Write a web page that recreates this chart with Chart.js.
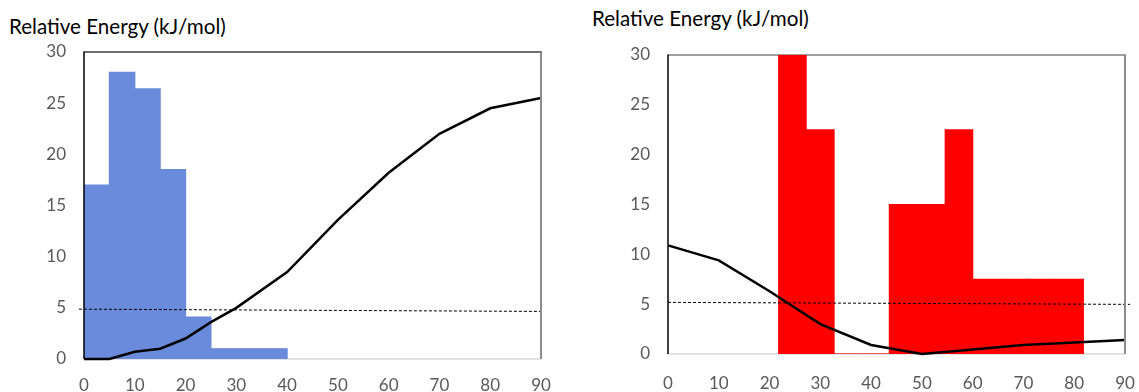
<!DOCTYPE html>
<html>
<head>
<meta charset="utf-8">
<script src="https://cdn.jsdelivr.net/npm/chart.js@4.4.1/dist/chart.umd.min.js"></script>
<style>
  html, body { margin: 0; padding: 0; background: #fff; width: 1139px; height: 392px; overflow: hidden; }
  canvas { position: absolute; top: 0; }
  .ttl { position: absolute; font-family: Lato, "Liberation Sans", sans-serif; font-size: 20.6px; color: #000; white-space: nowrap; line-height: 1; }
</style>
</head>
<body>
<div class="ttl" id="t1" style="left:9px; top:16px;">Relative Energy (kJ/mol)</div>
<div class="ttl" id="t2" style="left:592px; top:8px;">Relative Energy (kJ/mol)</div>
<canvas id="c1" width="560" height="392" style="left:0px;"></canvas>
<canvas id="c2" width="559" height="392" style="left:580px;"></canvas>
<script>
// ---- data ----
const xTicks = [0, 10, 20, 30, 40, 50, 60, 70, 80, 90];
const yTicks = [0, 5, 10, 15, 20, 25, 30];

// Left panel
const leftBinCenters = [2.5, 7.5, 12.5, 17.5, 22.5, 27.5, 32.5, 37.5];
const leftBinValues  = [17, 28, 26.4, 18.5, 4.1, 1, 1, 1];
const leftAngles = [0, 5, 10, 15, 20, 25, 30, 40, 50, 60, 70, 80, 90];
const leftEnergy = [0, 0, 0.7, 1, 2, 3.6, 5, 8.5, 13.6, 18.2, 22, 24.5, 25.5];
const leftRefX = [-1, 90];
const leftRefY = [4.87, 4.65];

// Right panel
const rightBinCenters = [24.5, 30.0, 35.4, 40.9, 46.3, 51.8, 57.3, 62.7, 68.2, 73.6, 79.1];
const rightBinValues  = [30, 22.5, 0, 0, 15, 15, 22.5, 7.5, 7.5, 7.5, 7.5];
const rightAngles = [0, 10, 20, 30, 40, 50, 60, 70, 80, 90];
const rightEnergy = [10.9, 9.4, 6.3, 3.0, 0.9, 0, 0.45, 0.9, 1.15, 1.4];
const rightRefX = [0, 91];
const rightRefY = [5.18, 4.98];

const zip = (xs, ys) => xs.map((x, i) => ({ x: x, y: ys[i] }));
const FONT = 'Lato, "Liberation Sans", sans-serif';

const framePlugin = {
  id: 'frame',
  beforeDatasetsDraw(chart, args, opts) {
    const a = chart.chartArea, ctx = chart.ctx;
    ctx.save();
    ctx.strokeStyle = '#d9d9d9'; ctx.lineWidth = 1.5;
    ctx.beginPath(); ctx.moveTo(a.left, a.bottom); ctx.lineTo(a.right, a.bottom); ctx.stroke();
    ctx.strokeStyle = opts.topColor; ctx.lineWidth = 1.5;
    ctx.beginPath(); ctx.moveTo(a.left, a.top); ctx.lineTo(a.right + 1, a.top); ctx.stroke();
    ctx.restore();
  },
  afterDatasetsDraw(chart, args, opts) {
    const a = chart.chartArea, ctx = chart.ctx;
    ctx.save();
    ctx.strokeStyle = '#8c8c8c'; ctx.lineWidth = 2;
    ctx.beginPath(); ctx.moveTo(a.right, a.top); ctx.lineTo(a.right, a.bottom); ctx.stroke();
    ctx.strokeStyle = '#000'; ctx.lineWidth = 1.5;
    ctx.beginPath(); ctx.moveTo(a.left, a.top - 0.5); ctx.lineTo(a.left, a.bottom); ctx.stroke();
    ctx.restore();
  }
};

function makeChart(id, cfg) {
  return new Chart(document.getElementById(id), {
    type: 'bar',
    plugins: [framePlugin],
    data: {
      datasets: [
        {
          type: 'line', data: zip(cfg.refX, cfg.refY), borderColor: '#000', borderWidth: 1,
          borderDash: [3, 2], pointRadius: 0, fill: false, clip: false, order: 0
        },
        {
          type: 'line', data: zip(cfg.angles, cfg.energy), borderColor: '#000', borderWidth: 2.5,
          pointRadius: 0, fill: false, tension: 0, order: 1, clip: 4
        },
        {
          type: 'bar', data: zip(cfg.binCenters, cfg.binValues), backgroundColor: cfg.barColor,
          borderWidth: 0, inflateAmount: 0.6, barPercentage: 1, categoryPercentage: 1, order: 2
        }
      ]
    },
    options: {
      responsive: false, animation: false, devicePixelRatio: 1,
      layout: { padding: { left: 0, top: cfg.top, right: cfg.right, bottom: 0 } },
      plugins: { legend: { display: false }, tooltip: { enabled: false }, frame: { topColor: cfg.topColor } },
      scales: {
        x: {
          type: 'linear', position: 'bottom', min: 0, max: 90, offset: false,
          afterBuildTicks: s => { s.ticks = xTicks.map(v => ({ value: v })); },
          afterFit: s => { s.height = cfg.xh; s.paddingLeft = 0; s.paddingRight = 0; },
          grid: { display: false, drawTicks: false },
          border: { display: false },
          ticks: { color: '#595959', font: { family: FONT, size: 17 }, padding: cfg.xpad, maxRotation: 0, autoSkip: false }
        },
        y: {
          type: 'linear', position: 'left', min: 0, max: 30,
          afterBuildTicks: s => { s.ticks = yTicks.map(v => ({ value: v })); },
          afterFit: s => { s.width = cfg.yw; s.paddingTop = 0; s.paddingBottom = 0; },
          grid: { display: false, drawTicks: false },
          border: { display: false },
          ticks: { color: '#595959', font: { family: FONT, size: 17 }, padding: 18 }
        }
      }
    }
  });
}

makeChart('c1', {
  binCenters: leftBinCenters, binValues: leftBinValues, angles: leftAngles, energy: leftEnergy,
  refX: leftRefX, refY: leftRefY, barColor: '#6a8bdb',
  top: 52, right: 19, xh: 33, yw: 84, xpad: 16, topColor: '#404040'
});
makeChart('c2', {
  binCenters: rightBinCenters, binValues: rightBinValues, angles: rightAngles, energy: rightEnergy,
  refX: rightRefX, refY: rightRefY, barColor: '#ff0000',
  top: 55, right: 14, xh: 38, yw: 88, xpad: 19, topColor: '#808080'
});
</script>
</body>
</html>
